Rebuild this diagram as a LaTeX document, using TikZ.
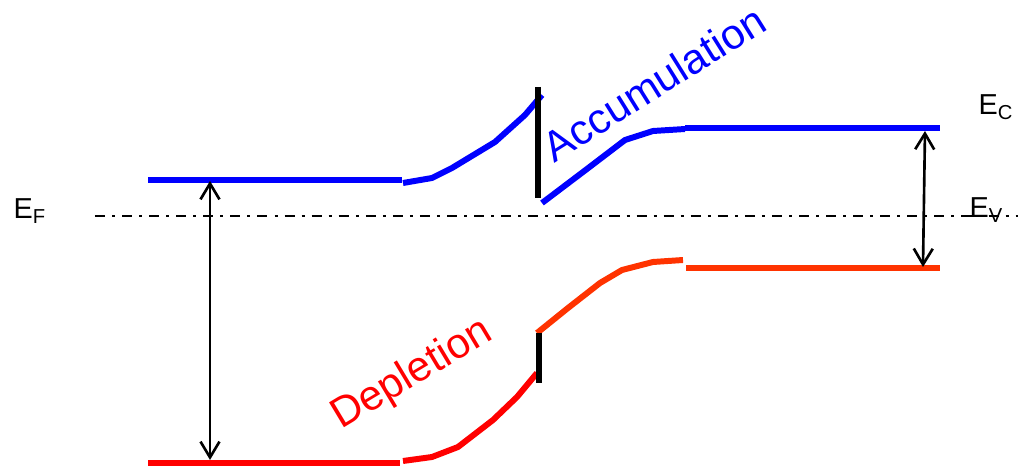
\documentclass[tikz,border=0pt]{standalone}
\usepackage{fontspec}
\setmainfont{Liberation Sans}
\usepackage{tikz}
\usetikzlibrary{positioning, arrows.meta}
\definecolor{bandblue}{RGB}{0,0,255}
\definecolor{bandred}{RGB}{255,0,0}
\definecolor{bandorange}{RGB}{255,51,0}
\tikzset{
  cband/.style={line width=1.7pt, color=bandblue},
  vbandl/.style={line width=1.7pt, color=bandred},
  vbandr/.style={line width=1.7pt, color=bandorange},
  barrier/.style={line width=1.6pt, color=black},
  fermi/.style={line width=0.6pt, dash pattern=on 2.85pt off 2pt on 0.85pt off 2pt},
  gaparr/.style={{Straight Barb[length=4.5pt,width=5.4pt]}-{Straight Barb[length=4.5pt,width=5.4pt]}, line width=0.75pt},
  lvl/.style={font=\fontsize{8.2}{10}\selectfont, anchor=base west, inner sep=0pt},
  region/.style={font=\fontsize{12}{14}\selectfont, anchor=base, inner sep=0pt},
}
\begin{document}
\begin{tikzpicture}[x=0.01cm, y=-0.01cm]
  \useasboundingbox (0,0) rectangle (1023,467);
  % Fermi level
  \draw[fermi] (95,216) -- (1018,216);
  % conduction band
  \draw[cband] (148,180) -- (402,180);
  \draw[cband] (403,183) -- (432,178) -- (452,168) -- (495,142) -- (525,115) -- (542,95);
  \draw[cband] (542,203) -- (583,172) -- (625,140) -- (653,131) -- (685,129);
  \draw[cband] (685,128) -- (940,128);
  % valence band
  \draw[vbandl] (148,463) -- (400,463);
  \draw[vbandl] (403,461) -- (432,457) -- (458,447) -- (493,420) -- (517,397) -- (537,373);
  \draw[vbandr] (537,333) -- (568,308) -- (600,283) -- (622,270) -- (653,262) -- (683,260);
  \draw[vbandr] (686,268) -- (940,268);
  % interface
  \draw[barrier] (538,87) -- (538,198);
  \draw[barrier] (539,333) -- (539,383);
  % band gaps
  \coordinate (gltop) at (210,181);
  \coordinate (glbot) at (210,460);
  \coordinate (grtop) at (925,131);
  \coordinate (grbot) at (923,267);
  \draw[gaparr] (gltop) -- (glbot);
  \draw[gaparr] (grtop) -- (grbot);
  % labels
  \node[lvl] (ec) at (978,115) {E\textsubscript{C}};
  \node[lvl] (ev) at (969,218) {E\textsubscript{V}};
  \node[lvl] (ef) at (13,219) {E\textsubscript{F}};
  \node[region, text=bandblue, rotate=32] (acc) at (662,96) {Accumulation};
  \node[region, text=bandred, rotate=31] (dep) at (418,384) {Depletion};
\end{tikzpicture}
\end{document}
